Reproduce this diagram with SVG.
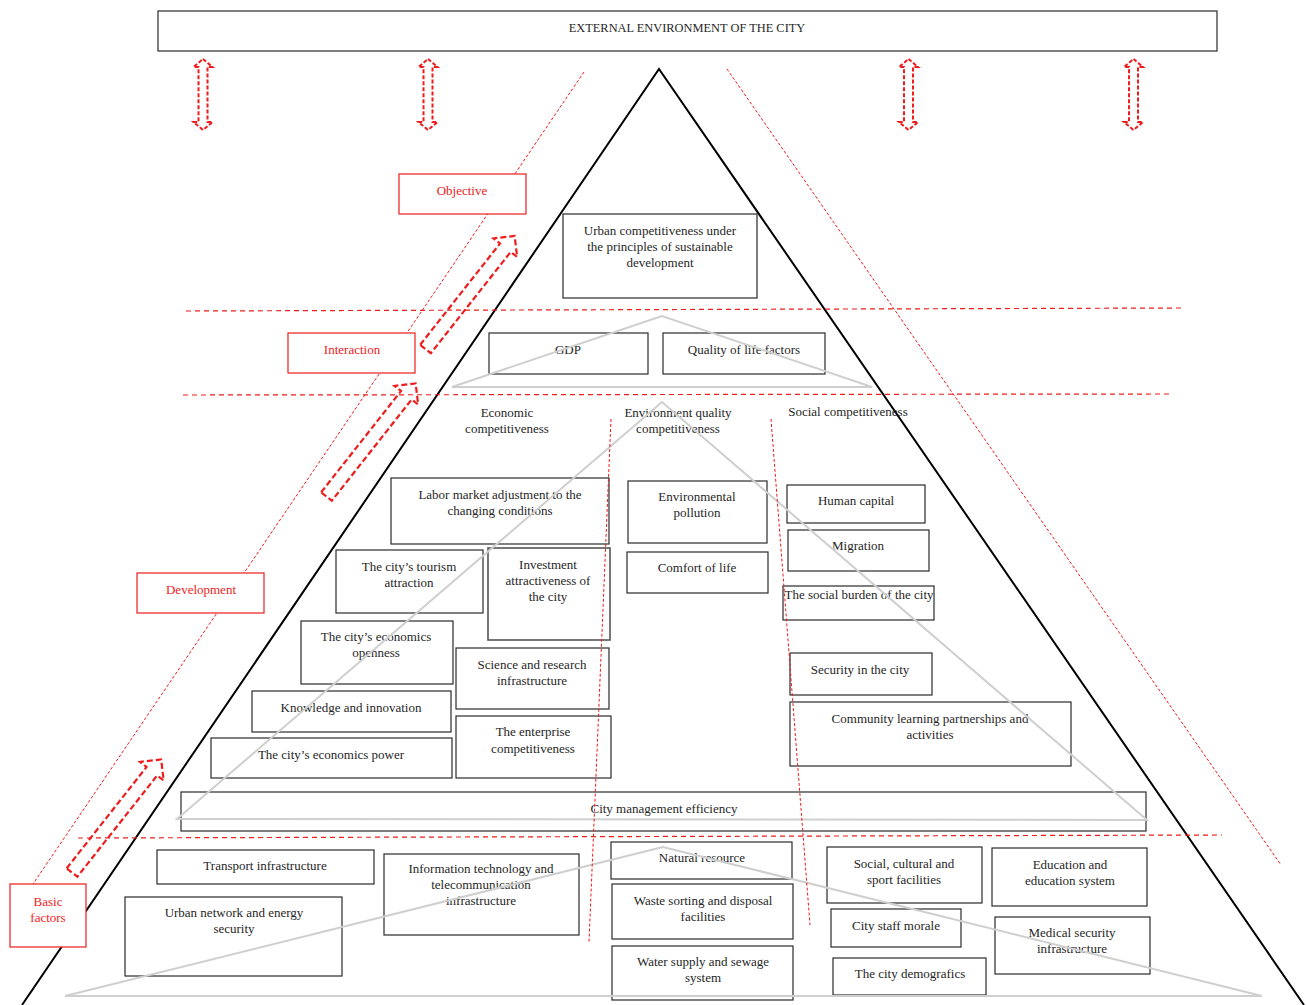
<svg xmlns="http://www.w3.org/2000/svg" xmlns:xlink="http://www.w3.org/1999/xlink" width="1307" height="1005" viewBox="0 0 1307 1005">
<style>
text{font-family:"Liberation Serif","Times New Roman",serif;font-size:13px;fill:#262626;text-anchor:middle}
.red text, text.red{fill:#ee1c1c}
.box{fill:#fff;stroke:#2b2b2b;stroke-width:1.2}
.rbox{fill:#fff;stroke:#ee1c1c;stroke-width:1.2}
.gray{fill:none;stroke:#cfcfcf;stroke-width:2}
.rdot{fill:none;stroke:#ee1c1c;stroke-width:1;stroke-dasharray:3,2}
.rdash{fill:none;stroke:#ee1c1c;stroke-width:1.2;stroke-dasharray:5,4}
.arr{fill:none;stroke:#ee1c1c;stroke-width:2.2;stroke-dasharray:6,3}
.dbl{fill:none;stroke:#ee1c1c;stroke-width:2;stroke-dasharray:4,2}
</style>
<defs>
<path id="dblarrow" d="M0,59 L9.5,67 L4.5,67 L4.5,122 L9.5,122 L0,130 L-9.5,122 L-4.5,122 L-4.5,67 L-9.5,67 Z"/>
<path id="diagarrow" d="M0,-6.8 L129,-6.8 L129,-15 L144,0 L129,15 L129,6.8 L0,6.8 Z"/>
</defs>
<rect width="1307" height="1005" fill="#fff"/>

<g id="external">
<rect class="box" x="158" y="11" width="1059" height="40"/>
<text x="687" y="32" style="font-size:12.4px">EXTERNAL ENVIRONMENT OF THE CITY</text>
</g>

<g id="pyramid">
<path d="M22,1005 L659,69 L1304,1005" fill="none" stroke="#000" stroke-width="2"/>
</g>

<g id="connectors">
<line class="rdot" x1="584" y1="72" x2="33" y2="884"/>
<line class="rdot" x1="727" y1="69" x2="1281" y2="865"/>
<line class="rdash" x1="186" y1="311" x2="1182" y2="308"/>
<line class="rdash" x1="183" y1="395" x2="1172" y2="394"/>
<line class="rdash" x1="78" y1="838" x2="1222" y2="835"/>
<use href="#dblarrow" class="dbl" x="203"/>
<use href="#dblarrow" class="dbl" x="428"/>
<use href="#dblarrow" class="dbl" x="908.5"/>
<use href="#dblarrow" class="dbl" x="1133.5"/>
<use href="#diagarrow" class="arr" transform="translate(425.5,349) rotate(-51.75)"/>
<use href="#diagarrow" class="arr" transform="translate(326.5,496.5) rotate(-51.75)"/>
<use href="#diagarrow" class="arr" transform="translate(72,872.5) rotate(-51.75)"/>
</g>

<g id="objective" class="red"><rect class="rbox" x="399" y="174" width="127" height="40"/><text x="462" y="195">Objective</text></g>
<g id="interaction" class="red"><rect class="rbox" x="288" y="333" width="127" height="40"/><text x="352" y="354">Interaction</text></g>
<g id="development" class="red"><rect class="rbox" x="137" y="573" width="127" height="40"/><text x="201" y="594">Development</text></g>
<g id="basic" class="red"><rect class="rbox" x="10" y="884" width="76" height="63"/><text x="48" y="906">Basic<tspan x="48" dy="16">factors</tspan></text></g>

<g id="urban"><rect class="box" x="563" y="214" width="194" height="84"/><text x="660" y="235">Urban competitiveness under<tspan x="660" dy="16">the principles of sustainable</tspan><tspan x="660" dy="16">development</tspan></text></g>
<g id="gdp"><rect class="box" x="489" y="333" width="159" height="41"/><text x="568" y="354">GDP</text></g>
<g id="quality"><rect class="box" x="663" y="333" width="162" height="41"/><text x="744" y="354">Quality of life factors</text></g>

<g id="hdr-economic"><text x="507" y="417">Economic<tspan x="507" dy="16">competitiveness</tspan></text></g>
<g id="hdr-environment"><text x="678" y="417">Environment quality<tspan x="678" dy="16">competitiveness</tspan></text></g>
<g id="hdr-social"><text x="848" y="416">Social competitiveness</text></g>

<g id="labor"><rect class="box" x="391" y="478" width="218" height="66"/><text x="500" y="499">Labor market adjustment to the<tspan x="500" dy="16">changing conditions</tspan></text></g>
<g id="tourism"><rect class="box" x="336" y="550" width="147" height="63"/><text x="409" y="571">The city’s tourism<tspan x="409" dy="16">attraction</tspan></text></g>
<g id="investment"><rect class="box" x="488" y="548" width="122" height="92" style="stroke:#555;stroke-width:1.6"/><text x="548" y="569">Investment<tspan x="548" dy="16">attractiveness of</tspan><tspan x="548" dy="16">the city</tspan></text></g>
<g id="openness"><rect class="box" x="301" y="621" width="152" height="63"/><text x="376" y="641">The city’s economics<tspan x="376" dy="16">openness</tspan></text></g>
<g id="science"><rect class="box" x="456" y="648" width="153" height="61"/><text x="532" y="669">Science and research<tspan x="532" dy="16">infrastructure</tspan></text></g>
<g id="knowledge"><rect class="box" x="252" y="691" width="199" height="41"/><text x="351" y="712">Knowledge and innovation</text></g>
<g id="enterprise"><rect class="box" x="456" y="716" width="155" height="62"/><text x="533" y="736">The enterprise<tspan x="533" dy="17">competitiveness</tspan></text></g>
<g id="power"><rect class="box" x="211" y="738" width="241" height="40"/><text x="331" y="759">The city’s economics power</text></g>

<g id="pollution"><rect class="box" x="628" y="481" width="139" height="62"/><text x="697" y="501">Environmental<tspan x="697" dy="16">pollution</tspan></text></g>
<g id="comfort"><rect class="box" x="627" y="552" width="141" height="41"/><text x="697" y="572">Comfort of life</text></g>

<g id="human"><rect class="box" x="787" y="485" width="138" height="38"/><text x="856" y="505">Human capital</text></g>
<g id="migration"><rect class="box" x="788" y="530" width="141" height="41"/><text x="858" y="550">Migration</text></g>
<g id="burden"><rect class="box" x="783" y="586" width="151" height="34"/><text x="859" y="599">The social burden of the city</text></g>
<g id="security"><rect class="box" x="790" y="653" width="142" height="42"/><text x="860" y="674">Security in the city</text></g>
<g id="community"><rect class="box" x="790" y="702" width="281" height="64"/><text x="930" y="723">Community learning partnerships and<tspan x="930" dy="16">activities</tspan></text></g>

<g id="management"><rect class="box" x="181" y="792" width="965" height="39"/><text x="664" y="813">City management efficiency</text></g>

<g id="transport"><rect class="box" x="157" y="850" width="217" height="34"/><text x="265" y="870">Transport infrastructure</text></g>
<g id="network"><rect class="box" x="125" y="897" width="217" height="79"/><text x="234" y="917">Urban network and energy<tspan x="234" dy="16">security</tspan></text></g>
<g id="it"><rect class="box" x="384" y="854" width="195" height="81"/><text x="481" y="873">Information technology and<tspan x="481" dy="16">telecommunication</tspan><tspan x="481" dy="16">infrastructure</tspan></text></g>
<g id="natural"><rect class="box" x="611" y="842" width="181" height="37"/><text x="702" y="862">Natural resource</text></g>
<g id="waste"><rect class="box" x="612" y="884" width="181" height="55"/><text x="703" y="905">Waste sorting and disposal<tspan x="703" dy="16">facilities</tspan></text></g>
<g id="water"><rect class="box" x="612" y="946" width="181" height="54"/><text x="703" y="966">Water supply and sewage<tspan x="703" dy="16">system</tspan></text></g>
<g id="social-fac"><rect class="box" x="827" y="847" width="155" height="56"/><text x="904" y="868">Social, cultural and<tspan x="904" dy="16">sport facilities</tspan></text></g>
<g id="staff"><rect class="box" x="831" y="909" width="130" height="38"/><text x="896" y="930">City staff morale</text></g>
<g id="demografics"><rect class="box" x="833" y="958" width="153" height="37"/><text x="910" y="978">The city demografics</text></g>
<g id="education"><rect class="box" x="992" y="848" width="155" height="58"/><text x="1070" y="869">Education and<tspan x="1070" dy="16">education system</tspan></text></g>
<g id="medical"><rect class="box" x="995" y="917" width="155" height="57"/><text x="1072" y="937">Medical security<tspan x="1072" dy="16">infrastructure</tspan></text></g>

<g id="overlay">
<path class="gray" d="M662,316 L452,387 L872,387 Z"/>
<path class="gray" d="M662,402 L177,819 L1147,820 Z"/>
<path class="gray" d="M663,847 L65,996 L1262,996 Z"/>
<line class="rdot" x1="611" y1="419" x2="589" y2="942"/>
<line class="rdot" x1="771" y1="419" x2="810" y2="925"/>
</g>
</svg>
